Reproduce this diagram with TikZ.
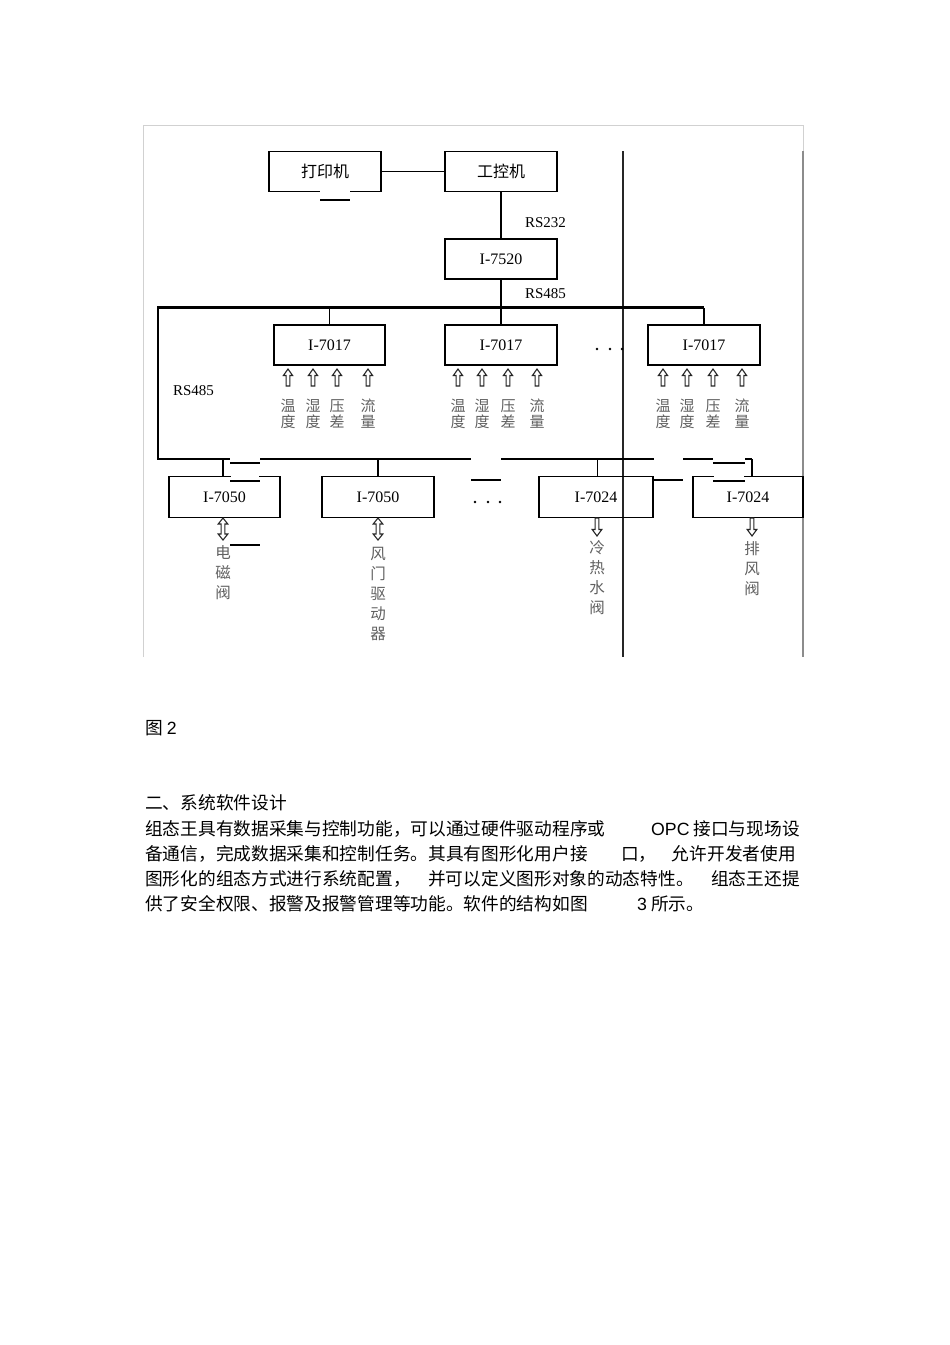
\documentclass[tikz,border=0pt]{standalone}
\usepackage{fontspec}
\setmainfont{Liberation Serif}
\newfontfamily\cjk{Noto Sans CJK SC}
\newfontfamily\lsans{Liberation Sans}
\begin{document}
\begin{tikzpicture}[x=1pt,y=-1pt,
  box/.style={draw, line width=1.4pt, minimum width=112pt, minimum height=40pt, inner sep=0pt, font=\fontsize{16}{17}\selectfont},
  wire/.style={line width=1.4pt},
  bus/.style={line width=2.4pt},
  lab/.style={text=black!62, font=\cjk\fontsize{15}{16}\selectfont, align=center, inner sep=0pt},
  vlab/.style={text=black!62, font=\cjk\fontsize{15.5}{20}\selectfont, align=center, inner sep=0pt},
  rs/.style={font=\fontsize{15}{16}\selectfont, inner sep=0pt},
  dotn/.style={circle, fill=black, minimum size=2.6pt, inner sep=0pt},
  para/.style={anchor=base west, inner sep=0pt, font=\cjk\fontsize{17.7}{20}\selectfont},
  arr/.style={draw=black!85, line width=1.1pt, fill=white},
  uparr/.pic={\path[arr] (0,0) -- (4.6,6.5) -- (1.9,6.5) -- (1.9,17) -- (-1.9,17) -- (-1.9,6.5) -- (-4.6,6.5) -- cycle;},
  dnarr/.pic={\path[arr] (0,18) -- (4.8,11.5) -- (1.9,11.5) -- (1.9,0) -- (-1.9,0) -- (-1.9,11.5) -- (-4.8,11.5) -- cycle;},
  udarr/.pic={\path[arr] (0,0) -- (4.8,6) -- (1.9,6) -- (1.9,16) -- (4.8,16) -- (0,22) -- (-4.8,16) -- (-1.9,16) -- (-1.9,6) -- (-4.8,6) -- cycle;}
]
\useasboundingbox (0,0) rectangle (950,1345);
\fill[white] (0,0) rectangle (950,1345);

% frame of the scanned figure
\draw[black!18, line width=1pt] (143,657) -- (143,125) -- (803,125) -- (803,151);
\draw[black!45, line width=1.6pt] (803,151) -- (803,657);
\draw[black!85, line width=1.3pt] (623,151) -- (623,657);

% top nodes
\node[box] (prn) at (325,171.5) {\cjk 打印机};
\node[box] (ipc) at (501,171.5) {\cjk 工控机};
\node[box] (m7520) at (501,259) {I-7520};
\draw[wire] (prn) -- (ipc);
\draw[wire] (ipc) -- (m7520);
\draw[white, line width=3pt] (320,191.5) -- (350,191.5);
\draw[wire] (320,200) -- (350,200);
\node[rs] (lrs232) at (545.5,223) {RS232};
\node[rs] (lrs485a) at (545.5,294) {RS485};
\node[rs] (lrs485b) at (193.5,391) {RS485};

% I-7017 modules
\node[box, minimum width=111pt] (a1) at (329.5,345) {I-7017};
\node[box] (a2) at (501,345) {I-7017};
\node[box] (a3) at (704,345) {I-7017};

\coordinate (tbL) at (158,307.5);
\coordinate (lbL) at (158,459);
\draw[wire] (m7520.south) -- (m7520.south |- tbL);
\draw[wire] (a1.north) -- (a1.north |- tbL);
\draw[wire] (a2.north) -- (a2.north |- tbL);
\draw[bus] (a3.north |- tbL) -- (tbL) -- (lbL) -- (230,459);
\draw[wire] (a3.north) -- (a3.north |- tbL);

% lower bus (with the breaks of the scan)
\draw[bus] (260,459) -- (471,459);
\draw[bus] (501,459) -- (654,459);
\draw[bus] (683,459) -- (713,459);
\draw[bus] (745,459) -- (752,459);
\draw[wire] (471,480) -- (501,480);
\draw[wire] (230,463) -- (260,463);
\draw[wire] (713,463) -- (745,463);

% output modules
\node[box, minimum width=111pt, minimum height=41pt] (b1) at (224.5,497) {I-7050};
\node[box, minimum height=41pt] (b2) at (378,497) {I-7050};
\node[box, minimum width=114pt, minimum height=41pt] (b3) at (596,497) {I-7024};
\node[box, minimum width=110pt, minimum height=41pt] (b4) at (748,497) {I-7024};

\draw[wire] ([xshift=-1.5pt]b1.north) -- ([xshift=-1.5pt]b1.north |- lbL);
\draw[wire] (b2.north) -- (b2.north |- lbL);
\draw[wire] ([xshift=1.5pt]b3.north) -- ([xshift=1.5pt]b3.north |- lbL);
\draw[wire] ([xshift=4pt]b4.north) -- ([xshift=4pt]b4.north |- lbL);
\draw[wire] (b3.east |- 0,480) -- (683,480);

% scan patches
\draw[white, line width=3pt] (231,476.5) -- (259,476.5);
\draw[wire] (230,481) -- (260,481);
\draw[wire] (230,545) -- (260,545);
\draw[white, line width=3pt] (714,476.5) -- (744,476.5);
\draw[wire] (713,481) -- (745,481);

% dots
\node[dotn] (d1) at (597,349) {};
\node[dotn] (d2) at (610,349) {};
\node[dotn] (d3) at (622,349) {};
\node[dotn] (d4) at (475,502) {};
\node[dotn] (d5) at (488,502) {};
\node[dotn] (d6) at (500,502) {};

% input arrows and labels
\foreach \x/\t [count=\i] in {288/{温\\度},313/{湿\\度},337/{压\\差},368/{流\\量},
                              458/{温\\度},482/{湿\\度},508/{压\\差},537/{流\\量},
                              663/{温\\度},687/{湿\\度},713/{压\\差},742/{流\\量}}{
  \pic at (\x,369) {uparr};
  \node[lab] (in\i) at (\x,414) {\t};
}

% output arrows and labels
\pic at (223,518) {udarr};
\pic at (378,518) {udarr};
\pic at (597,518) {dnarr};
\pic at (752,518) {dnarr};
\node[vlab] (o1) at (223,573) {电\\磁\\阀};
\node[vlab] (o2) at (378,594) {风\\门\\驱\\动\\器};
\node[vlab] (o3) at (597,578) {冷\\热\\水\\阀};
\node[vlab] (o4) at (752,569) {排\\风\\阀};

% caption and body text
\node[para] (cap) at (145,734.5) {图 {\lsans 2}};
\node[para] (h2) at (145,809.5) {二、系统软件设计};
\node[para] (p1a) at (145,835) {组态王具有数据采集与控制功能，可以通过硬件驱动程序或};
\node[para] (p1b) at (651,835) {{\lsans OPC} 接口与现场设};
\node[para] (p2a) at (145,860) {备通信，完成数据采集和控制任务。其具有图形化用户接};
\node[para] (p2b) at (621,860) {口，};
\node[para, anchor=base east] (p2c) at (796,860) {允许开发者使用};
\node[para] (p3a) at (145,885) {图形化的组态方式进行系统配置，};
\node[para] (p3b) at (428,885) {并可以定义图形对象的动态特性。};
\node[para] (p3c) at (711,885) {组态王还提};
\node[para] (p4a) at (145,910) {供了安全权限、报警及报警管理等功能。软件的结构如图};
\node[para] (p4b) at (637,910) {{\lsans 3} 所示。};
\end{tikzpicture}
\end{document}
